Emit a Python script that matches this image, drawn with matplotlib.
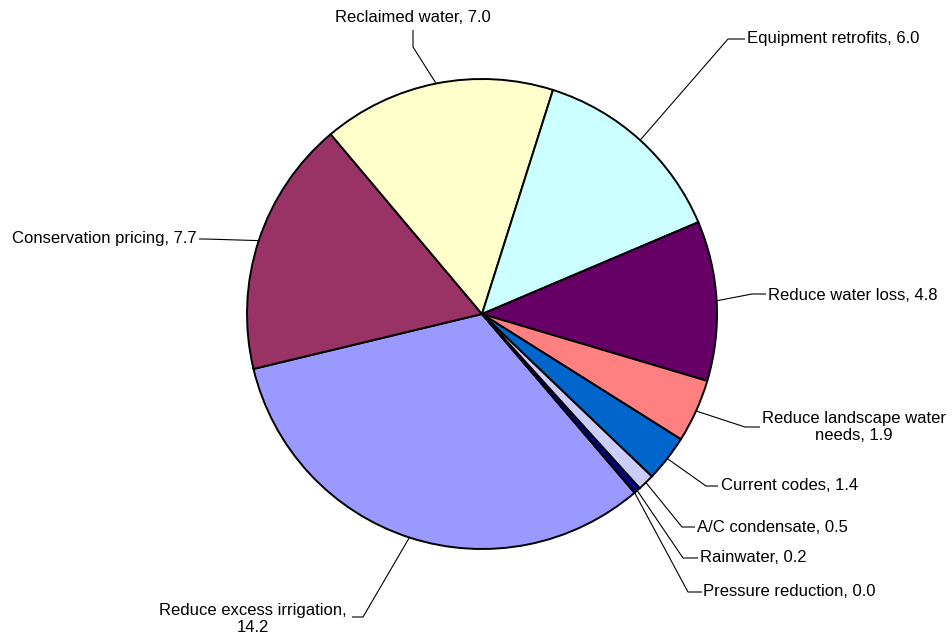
import textwrap
import numpy as np
import matplotlib
matplotlib.use("Agg")
import matplotlib.pyplot as plt

plt.rcParams['font.family'] = ['Liberation Sans', 'DejaVu Sans']

# data (water savings by strategy)
categories = ['Reduce excess irrigation', 'Conservation pricing', 'Reclaimed water',
              'Equipment retrofits', 'Reduce water loss', 'Reduce landscape water needs',
              'Current codes', 'A/C condensate', 'Rainwater', 'Pressure reduction']
values = [14.2, 7.7, 7.0, 6.0, 4.8, 1.9, 1.4, 0.5, 0.2, 0.0]
colors = ['#9999FF', '#993366', '#FFFFCC', '#CCFFFF', '#660066',
          '#FF8080', '#0066CC', '#CCCCFF', '#000080', '#FF00FF']

# label layout, in pixels from the top-left: elbow of leader, end of leader, text anchor
H = 639
elbows = [(363, 617), (205, 239), (413, 47), (728, 39), (752, 294),
          (745, 427), (706, 486), (682, 527), (683, 558), (688, 592)]
ends = [(352, 617), (199, 239), (413, 30), (745, 39), (766, 294),
        (760, 427), (718, 486), (695, 527), (698, 558), (702, 592)]
text_pos = [(253, 619, 'center'), (197, 238, 'right'), (413, 17, 'center'),
            (747, 38, 'left'), (768, 295, 'left'), (854, 427, 'center'),
            (721, 486, 'left'), (697, 527, 'left'), (700, 558, 'left'),
            (703, 592, 'left')]

cx, cy, r = 482, H - 314, 235

fig = plt.figure(figsize=(9.52, 6.39), dpi=100)
ax = fig.add_axes([0, 0, 1, 1])
wedges, _ = ax.pie(values, colors=colors, startangle=-49.5, counterclock=False,
                   center=(cx, cy), radius=r,
                   wedgeprops=dict(edgecolor='black', linewidth=1.4))

for w, cat, val, el, en, tp in zip(wedges, categories, values, elbows, ends, text_pos):
    mid = np.deg2rad((w.theta1 + w.theta2) / 2)
    x0, y0 = cx + r * np.cos(mid), cy + r * np.sin(mid)
    ax.plot([x0, el[0], en[0]], [y0, H - el[1], H - en[1]],
            color='black', lw=0.8, solid_capstyle='butt')
    label = textwrap.fill(f"{cat}, {val:.1f}", 25)
    ax.text(tp[0], H - tp[1], label, ha=tp[2], va='center', fontsize=12,
            multialignment='center', linespacing=1.15)

ax.set_xlim(0, 952)
ax.set_ylim(0, H)
ax.set_aspect('equal')
ax.axis('off')
fig.savefig('out.png', dpi=100)
